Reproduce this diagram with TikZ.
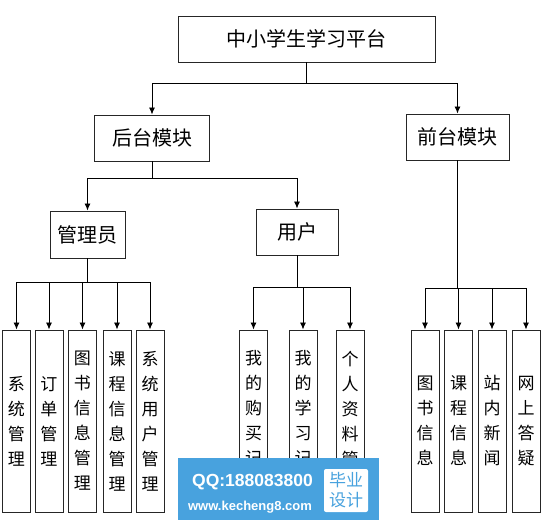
\documentclass[tikz,border=0pt]{standalone}
\usepackage{fontspec}
\setmainfont{Noto Sans CJK SC}
\newfontfamily\wmfont{Liberation Sans}
\usetikzlibrary{arrows.meta,positioning}
\definecolor{wmblue}{RGB}{72,162,222}

\begin{document}
\begin{tikzpicture}[x=1pt,y=-1pt]
  \tikzstyle{topbox}=[rectangle,draw=black!85,line width=0.9pt,minimum height=46pt,inner sep=0pt,font=\fontsize{20}{24}\selectfont]
  \tikzstyle{leafbox}=[rectangle,draw=black!85,line width=0.9pt,minimum width=28pt,minimum height=182pt,inner sep=0pt,align=center,font=\fontsize{17}{25}\selectfont]
  \useasboundingbox (0,0) rectangle (558,524);

  \node[topbox,minimum width=257pt] (root) at (306.5,39) {中小学生学习平台};
  \node[topbox,minimum width=115pt] (back) at (152,138) {后台模块};
  \node[topbox,minimum width=103pt] (front) at (457.5,137) {前台模块};
  \node[topbox,minimum width=75pt,minimum height=47pt] (admin) at (87.5,234.5) {管理员};
  \node[topbox,minimum width=82pt] (user) at (297,232) {用户};

  % admin leaves
  \node[leafbox] (sys) at (16.5,421) {系\\统\\管\\理};
  \node[leafbox] (order) at (49,421) {订\\单\\管\\理};
  \node[leafbox] (book) at (82.5,421) {图\\书\\信\\息\\管\\理};
  \node[leafbox] (course) at (117,421) {课\\程\\信\\息\\管\\理};
  \node[leafbox] (sysuser) at (150,421) {系\\统\\用\\户\\管\\理};
  % user leaves
  \node[leafbox] (buy) at (253.5,421) {我\\的\\购\\买\\记\\录};
  \node[leafbox] (study) at (303,421) {我\\的\\学\\习\\记\\录};
  \node[leafbox] (profile) at (350,421) {个\\人\\资\\料\\管\\理};
  % front leaves
  \node[leafbox] (fbook) at (425,421) {图\\书\\信\\息};
  \node[leafbox] (fcourse) at (458.5,421) {课\\程\\信\\息};
  \node[leafbox] (news) at (492,421) {站\\内\\新\\闻};
  \node[leafbox] (qa) at (526,421) {网\\上\\答\\疑};

  \draw[line width=0.9pt,-{Latex[length=7pt,width=6pt]}] (root.south) -- ++(0,21) -| (back.north);
  \draw[line width=0.9pt,-{Latex[length=7pt,width=6pt]}] (root.south) -- ++(0,21) -| (front.north);
  \draw[line width=0.9pt,-{Latex[length=7pt,width=6pt]}] (back.south) -- ++(0,17) -| (admin.north);
  \draw[line width=0.9pt,-{Latex[length=7pt,width=6pt]}] (back.south) -- ++(0,17) -| (user.north);
  \foreach \leaf in {sys,order,book,course,sysuser}
    \draw[line width=0.9pt,-{Latex[length=7pt,width=6pt]}] (admin.south) -- ++(0,24) -| (\leaf.north);
  \foreach \leaf in {buy,study,profile}
    \draw[line width=0.9pt,-{Latex[length=7pt,width=6pt]}] (user.south) -- ++(0,32) -| (\leaf.north);
  \foreach \leaf in {fbook,fcourse,news,qa}
    \draw[line width=0.9pt,-{Latex[length=7pt,width=6pt]}] (front.south) -- ++(0,128) -| (\leaf.north);

  % watermark
  \node[fill=wmblue,minimum width=201pt,minimum height=62pt,inner sep=0pt] (wm) at (278.5,489) {};
  \node[font=\wmfont\bfseries\fontsize{17.5}{20}\selectfont,text=white,inner sep=0pt] (qq) at (252.5,482) {QQ:188083800};
  \node[font=\wmfont\bfseries\fontsize{13}{15}\selectfont,text=white,inner sep=0pt] (web) at (250,507) {www.kecheng8.com};
  \node[fill=white,rounded corners=2pt,minimum width=44pt,minimum height=43pt,inner sep=0pt,align=center,text=wmblue,font=\fontsize{17}{20}\selectfont] (grad) at (346,490.5) {毕业\\设计};
\end{tikzpicture}
\end{document}
